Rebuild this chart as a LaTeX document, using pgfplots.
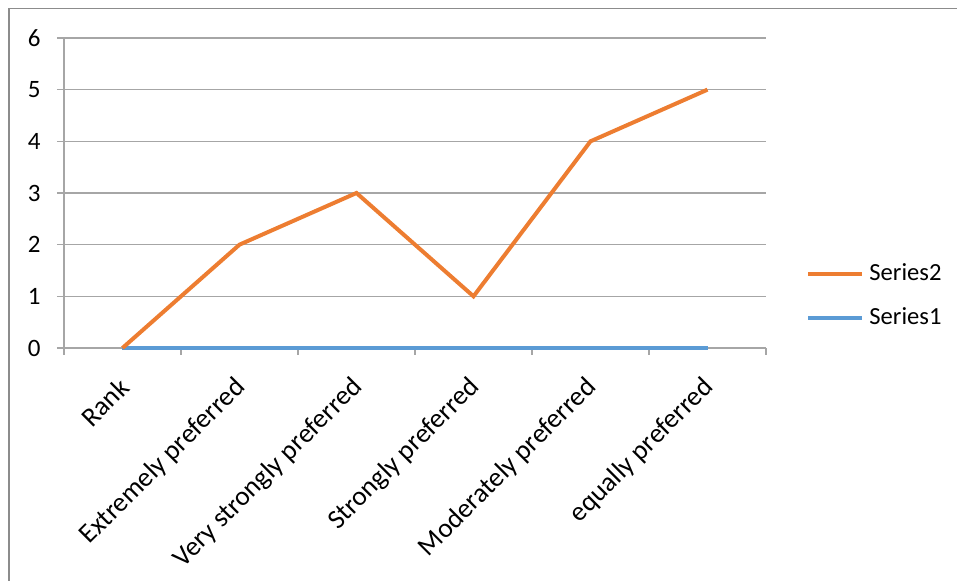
\documentclass[border=0pt]{standalone}
\usepackage{pgfplots}
\pgfplotsset{compat=1.18}
\usepackage{fontspec}
\setmainfont{Carlito}
\definecolor{serA}{HTML}{5B9BD5}
\definecolor{serB}{HTML}{ED7D31}
\definecolor{gridgray}{HTML}{A6A6A6}
\definecolor{framegray}{HTML}{8C8C8C}
\begin{document}
\fontsize{12}{14}\selectfont
\begin{tikzpicture}
\useasboundingbox (0,0) rectangle (478.5pt,290.5pt);
% chart frame (left and top edges)
\draw[framegray, line width=0.8pt] (4.5pt,0) -- (4.5pt,286.25pt) -- (478.5pt,286.25pt);
\begin{axis}[
  at={(32pt,116.5pt)}, anchor=south west,
  scale only axis, width=351pt, height=155pt,
  xmin=-0.5, xmax=5.5, ymin=0, ymax=6,
  clip=false,
  axis lines*=left,
  axis line style={gridgray, line width=0.75pt},
  tick align=outside,
  xtick={0,...,5},
  xticklabels={Rank, Extremely preferred, Very strongly preferred, Strongly preferred, Moderately preferred, equally preferred},
  major x tick style={draw=none},
  minor xtick={-0.5,0.5,...,5.5},
  minor tick length=3.5pt,
  minor x tick style={gridgray, line width=0.75pt},
  ytick={0,...,6},
  major tick length=3.5pt,
  y tick style={gridgray, line width=0.75pt},
  ymajorgrids,
  grid style={gridgray, line width=0.75pt},
  /pgf/number format/assume math mode=true,
  tick label style={font=\fontsize{12.5}{14}\selectfont, black},
  yticklabel style={inner sep=0pt, xshift=-8pt},
  xticklabel style={font=\fontsize{13.6}{15}\selectfont, anchor=east, inner sep=0pt, xshift=1pt, yshift=-14pt, rotate=45},
  legend style={draw=none, fill=none, at={(1.057,0.1677)}, anchor=west,
    inner sep=0pt, font=\fontsize{12.3}{14}\selectfont, row sep=10pt,
    nodes={inner sep=0pt, text height=9pt, text depth=3pt}},
  legend cell align=left,
  legend image code/.code={\draw[#1] (0pt,0pt) -- (27pt,0pt);},
  reverse legend,
]
\addplot[serA, line width=2pt] coordinates {(0,0) (1,0) (2,0) (3,0) (4,0) (5,0)};
\addlegendentry{\hspace{2.5pt}Series1}
\addplot[serB, line width=2pt] coordinates {(0,0) (1,2) (2,3) (3,1) (4,4) (5,5)};
\addlegendentry{\hspace{2.5pt}Series2}
\end{axis}
\end{tikzpicture}
\end{document}
